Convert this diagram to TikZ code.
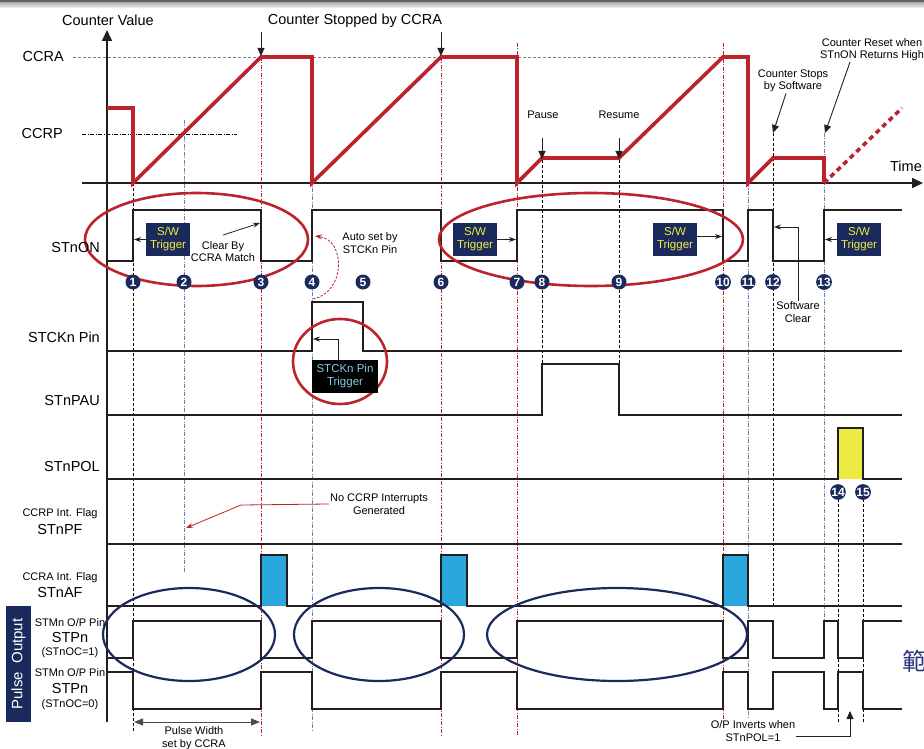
\documentclass[tikz,border=0pt]{standalone}
\usepackage{fontspec}
\setmainfont{Liberation Sans}
\newfontfamily\cjkfont{Noto Sans CJK TC}
\usepackage{xcolor}
\usetikzlibrary{arrows.meta, positioning, calc}
\definecolor{cntred}{RGB}{188,35,45}
\definecolor{navyblue}{RGB}{27,42,92}
\definecolor{swyellow}{RGB}{244,236,60}
\definecolor{pinblue}{RGB}{125,205,225}
\definecolor{flagblue}{RGB}{42,168,222}
\definecolor{polyellow}{RGB}{238,234,68}
\definecolor{guideblue}{RGB}{105,130,180}
\definecolor{sigblack}{RGB}{35,31,32}
\definecolor{kanji}{RGB}{45,52,128}

\begin{document}
\begin{tikzpicture}[x=1pt, y=-1pt,
    sig/.style={draw=sigblack, line width=1.8pt},
    cnt/.style={draw=cntred, line width=3.6pt},
    timeaxis/.style={draw=sigblack, line width=1.6pt, -{Triangle[length=11pt, width=10pt]}},
    gblack/.style={draw=black, line width=0.7pt, dash pattern=on 3pt off 2pt},
    gred/.style={draw=cntred, line width=0.7pt, dash pattern=on 4pt off 1.5pt on 1pt off 1.5pt},
    gblue/.style={draw=guideblue, line width=0.8pt, dash pattern=on 4pt off 1.5pt on 1pt off 1.5pt},
    redring/.style={draw=cntred, line width=2.6pt},
    bluering/.style={draw=navyblue, line width=2.2pt},
    swbox/.style={rectangle, fill=navyblue, text=swyellow, minimum width=44pt, minimum height=33pt, inner sep=0pt, align=center, font=\fontsize{11.5}{13}\selectfont},
    pinbox/.style={swbox, fill=black, text=pinblue, minimum width=66pt},
    num/.style={circle, fill=navyblue, text=white, minimum size=15pt, inner sep=0pt, font=\fontsize{12}{12}\selectfont\bfseries},
    lbl/.style={font=\fontsize{14.5}{16}\selectfont, inner sep=0pt},
    sublbl/.style={font=\fontsize{11}{12}\selectfont, inner sep=0pt},
    note/.style={font=\fontsize{11}{12.5}\selectfont, align=center, inner sep=1pt},
    ann/.style={draw=sigblack, line width=0.8pt, -{Stealth[length=7pt, width=5pt]}},
    bigann/.style={draw=sigblack, line width=0.9pt, -{Triangle[length=8pt, width=7pt]}},
    redann/.style={draw=cntred, line width=0.8pt, -{Stealth[length=7pt, width=5pt]}}
]
\clip (0,0) rectangle (924,749);
\fill[gray!75!black] (0,0) rectangle (924,2.5);
\fill[top color=gray!60, bottom color=gray!8] (0,2.5) rectangle (924,8);

% guide lines
\foreach \x/\a/\b in {133/183/733, 542/160/364, 619/160/364, 773/133/607, 838/499/722, 863/499/722}
  \draw[gblack] (\x,\a) -- (\x,\b);
\foreach \x/\a/\b in {261/57/735, 441/57/735, 517/43/735, 723/43/720}
  \draw[gred] (\x,\a) -- (\x,\b);
\foreach \x/\a/\b in {184/120/572, 312/108/730, 748/183/717, 824/133/620}
  \draw[gblue] (\x,\a) -- (\x,\b);
\draw[gray, line width=0.8pt, dash pattern=on 3pt off 2pt] (73,57) -- (723,57);
\draw[black, line width=0.6pt, dash pattern=on 4pt off 1.5pt on 1pt off 1.5pt] (82,134) -- (237,134);

% axes
\draw[timeaxis] (107,722) -- (107,30);
\draw[timeaxis] (82,183) -- (923,183);

% signals
\fill[polyellow] (838,428) rectangle (863,479);
\fill[flagblue] (261,555) rectangle (287,606);
\fill[flagblue] (441,555) rectangle (467,606);
\fill[flagblue] (723,555) rectangle (748,606);
\draw[sig] (107,261) -| (133,210) -| (261,261) -| (312,210) -| (441,261) -| (517,210) -| (723,261) -| (748,210) -| (773,261) -| (824,210) -- (902,210);
\draw[sig] (107,351) -| (312,302) -| (363,351) -- (902,351);
\draw[sig] (107,415) -| (542,364) -| (619,415) -- (902,415);
\draw[sig] (107,479) -| (838,428) -| (863,479) -- (902,479);
\draw[sig] (107,544) -- (902,544);
\draw[sig] (107,606) -| (261,555) -| (287,606) -| (441,555) -| (467,606) -| (723,555) -| (748,606) -- (902,606);
\draw[sig] (107,658) -| (133,621) -| (261,658) -| (312,621) -| (441,658) -| (517,621) -| (723,658) -| (748,621) -| (773,658) -| (824,621) -| (838,658) -| (863,621) -- (902,621);
\draw[sig] (107,672) -| (133,709) -| (261,672) -| (312,709) -| (441,672) -| (517,709) -| (723,672) -| (748,709) -| (773,672) -| (824,709) -| (838,672) -| (863,709) -- (902,709);

% counter
\draw[cnt] (107,108) -- (133,108) -- (133,183) -- (261,57) -- (312,57) -- (312,183) -- (441,57) -- (517,57) -- (517,183) -- (542,158) -- (619,158) -- (723,57) -- (748,57) -- (748,183) -- (773,158) -- (824,158) -- (824,183);
\draw[cnt, dash pattern=on 5pt off 4pt] (824,183) -- (902,108);

% rings
\draw[redring] (196.5,239.5) ellipse [x radius=111.5pt, y radius=46.5pt];
\draw[redring] (591,239.5) ellipse [x radius=152pt, y radius=46.5pt];
\draw[redring] (340,361.5) ellipse [x radius=47pt, y radius=42.5pt];
\draw[bluering] (189,634.5) ellipse [x radius=86pt, y radius=46.5pt];
\draw[bluering] (379,634.5) ellipse [x radius=85pt, y radius=46.5pt];
\draw[bluering] (617,634.5) ellipse [x radius=130pt, y radius=46.5pt];

% labels
\node[lbl] (cval) at (108,20) {Counter Value};
\node[lbl, anchor=east] (ccra) at (64,57) {CCRA};
\node[lbl, anchor=east] (ccrp) at (63,134) {CCRP};
\node[lbl] (cstopped) at (355,21) {Counter Stopped by CCRA};
\node[lbl] (time) at (906,166) {Time};
\node[lbl, anchor=east] (lon) at (100,248) {STnON};
\node[lbl, anchor=east] (lstck) at (100,337) {STCKn Pin};
\node[lbl, anchor=east] (lpau) at (100,401) {STnPAU};
\node[lbl, anchor=east] (lpol) at (100,467) {STnPOL};
\node[sublbl] (lpfa) at (60,514) {CCRP Int. Flag};
\node[lbl] (lpf) at (60,530) {STnPF};
\node[sublbl] (lafa) at (60,578) {CCRA Int. Flag};
\node[lbl] (laf) at (60,593) {STnAF};
\node[sublbl] (lp1a) at (70,623) {STMn O/P Pin};
\node[lbl] (lp1) at (70,638) {STPn};
\node[sublbl] (lp1b) at (70,653) {(STnOC=1)};
\node[sublbl] (lp0a) at (70,673) {STMn O/P Pin};
\node[lbl] (lp0) at (70,689) {STPn};
\node[sublbl] (lp0b) at (70,705) {(STnOC=0)};
\node[fill=navyblue, text=white, minimum width=116pt, minimum height=25pt, inner sep=0pt, rotate=90, font=\fontsize{15}{15}\selectfont] (pout) at (18.5,664) {Pulse\ \ Output};
\node[font=\cjkfont\fontsize{24}{24}\selectfont, text=kanji, anchor=west, inner sep=0pt] (kanji) at (902,661) {範};

% counter notes
\coordinate (stopA) at (261,56);
\coordinate (stopAtop) at (261,32);
\coordinate (stopB) at (441,56);
\coordinate (stopBtop) at (441,32);
\draw[bigann] (stopAtop) -- (stopA);
\draw[bigann] (stopBtop) -- (stopB);
\node[note] (pause) at (543,115) {Pause};
\node[note] (resume) at (619,115) {Resume};
\coordinate (pausetop) at (542,138);
\coordinate (pausetip) at (542,159);
\coordinate (resumetop) at (619,138);
\coordinate (resumetip) at (619,159);
\draw[bigann] (pausetop) -- (pausetip);
\draw[bigann] (resumetop) -- (resumetip);
\node[note] (cstops) at (793,81) {Counter Stops\\by Software};
\coordinate (cstip) at (773,133);
\draw[bigann] ([xshift=-7pt]cstops.south) -- (cstip);
\node[note] (creset) at (872,49.5) {Counter Reset when\\STnON Returns High};
\coordinate (crtip) at (825,133);
\draw[bigann] ([xshift=-22pt]creset.south) -- (crtip);

% triggers
\node[swbox] (sw1) at (168,239.5) {S/W\\Trigger};
\node[swbox] (sw2) at (475,239.5) {S/W\\Trigger};
\node[swbox] (sw3) at (675,239.5) {S/W\\Trigger};
\node[swbox] (sw4) at (859,239.5) {S/W\\Trigger};
\coordinate (sw1t) at (134,239.5);
\coordinate (sw2t) at (516,239.5);
\coordinate (sw3t) at (722,236.5);
\coordinate (sw4t) at (825,239.5);
\draw[ann] (sw1.west) -- (sw1t);
\draw[ann] (sw2.east) -- (sw2t);
\draw[ann] ([yshift=3pt]sw3.east) -- (sw3t);
\draw[ann] (sw4.west) -- (sw4t);
\node[note] (clrby) at (223,251.5) {Clear By\\CCRA Match};
\coordinate (clrtip) at (260,223);
\draw[ann] ([yshift=5pt]clrby.north) -- (clrtip);
\node[note] (autoset) at (370,243) {Auto set by\\STCKn Pin};
\coordinate (pinrise) at (313,299);
\coordinate (onrise) at (315,236);
\draw[redann, dash pattern=on 2.5pt off 1.5pt] (pinrise) .. controls (346,292) and (346,240) .. (onrise);
\node[pinbox] (pintrig) at (345,376.5) {STCKn Pin\\Trigger};
\coordinate (pintip) at (313,339);
\draw[ann] ([xshift=-7pt]pintrig.north) |- (pintip);
\node[note] (swclear) at (798,312) {Software\\Clear};
\coordinate (swtip) at (774,227);
\draw[ann] (swclear.north) |- (swtip);
\node[note] (nocrp) at (379,504) {No CCRP Interrupts\\Generated};
\coordinate (pfbend) at (241,505);
\coordinate (pftip) at (186,528);
\draw[redann] (nocrp.west) -- (pfbend) -- (pftip);

% bottom notes
\coordinate (pwl) at (134,722);
\coordinate (pwr) at (260,722);
\draw[draw=gray!60!black, line width=0.9pt, {Triangle[length=9pt, width=7pt]}-{Triangle[length=9pt, width=7pt]}] (pwl) -- (pwr);
\node[note] (pwtxt) at (194,738) {Pulse Width\\set by CCRA};
\node[note] (opinv) at (753,731) {O/P Inverts when\\STnPOL=1};
\coordinate (optip) at (850,711);
\draw[bigann] ([yshift=-5pt]opinv.east) -| (optip);

% event numbers
\foreach \x/\n in {133/1, 184/2, 261/3, 312/4, 363/5, 441/6, 517/7, 542/8, 619/9, 723/10, 748/11, 773/12, 824/13}
  \node[num] (e\n) at (\x,282) {\n};
\node[num] (e14) at (838,492) {14};
\node[num] (e15) at (863,492) {15};
\end{tikzpicture}
\end{document}
